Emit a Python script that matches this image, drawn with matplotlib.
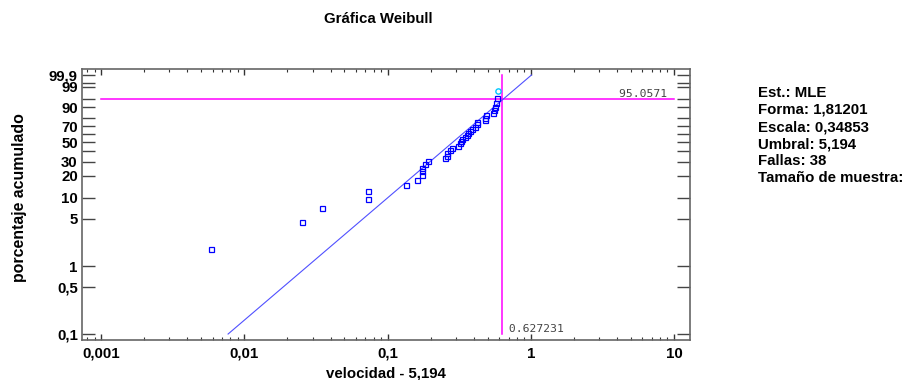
import numpy as np
import matplotlib
matplotlib.use("Agg")
import matplotlib.pyplot as plt
from matplotlib.ticker import FixedLocator, FixedFormatter, NullFormatter

plt.rcParams['font.family'] = ['Liberation Sans', 'DejaVu Sans']

# velocidad - umbral, ordenadas (38 fallas)
velocidad = [0.00586, 0.0254, 0.0351, 0.0735, 0.0735, 0.1346, 0.1615, 0.1733,
             0.1733, 0.1733, 0.1827, 0.1927, 0.252, 0.259, 0.2615, 0.273,
             0.2806, 0.312, 0.3207, 0.3243, 0.3296, 0.3475, 0.3606, 0.366,
             0.3767, 0.387, 0.408, 0.4196, 0.4236, 0.479, 0.479, 0.487,
             0.548, 0.5567, 0.5657, 0.572, 0.578, 0.5935]
# porcentaje acumulado (rangos medianos)
porcentaje = [1.82, 4.43, 7.03, 9.64, 12.24, 14.84, 17.45, 20.05, 22.66, 25.26,
              27.86, 30.47, 33.07, 35.68, 38.28, 40.89, 43.49, 46.09, 48.70,
              51.30, 53.91, 56.51, 59.11, 61.72, 64.32, 66.93, 69.53, 72.14,
              74.74, 77.34, 79.95, 82.55, 85.16, 87.76, 90.36, 92.97, 95.57,
              98.18]

forma = 1.81201
escala = 0.34853
umbral = 5.194
fallas = 38
x_cruz = 0.627231
y_cruz = 95.0571

ytick_vals = [0.1, 0.5, 1, 5, 10, 20, 30, 50, 70, 90, 99, 99.9]
ytick_labels = ['0,1', '0,5', '1', '5', '10', '20', '30', '50', '70', '90', '99', '99,9']
ytick_minor = [40, 60, 80, 95, 99.5]
xtick_vals = [0.001, 0.01, 0.1, 1, 10]
xtick_labels = ['0,001', '0,01', '0,1', '1', '10']

FS = 10.8


def weib_fwd(p):
    p = np.clip(np.asarray(p, dtype=float), 1e-9, 100 - 1e-9)
    return np.log(-np.log(1 - p / 100.0))


def weib_inv(t):
    return 100.0 * (1 - np.exp(-np.exp(t)))


fig = plt.figure(figsize=(9.04, 3.8), dpi=100)
ax = fig.add_axes([82 / 904, 40 / 380, 608 / 904, 271 / 380])
ax.set_xscale('log')
ax.set_yscale('function', functions=(weib_fwd, weib_inv))
ax.set_xlim(7.36e-4, 12.94)
ax.set_ylim(0.0816, 99.979)

# recta ajustada entre 0,1 % y 99,9 %
p_fit = np.linspace(0.1, 99.9, 200)
x_fit = escala * (-np.log(1 - p_fit / 100)) ** (1 / forma)
ax.plot(x_fit, p_fit, color='#5050ff', lw=0.8, zorder=2)

ax.plot(velocidad[:-1], porcentaje[:-1], 's', ms=3.6, mfc='none', mec='#0000ff',
        mew=0.9, zorder=3)
ax.plot(velocidad[-1:], porcentaje[-1:], 'o', ms=3.8, mfc='none', mec='#00c8ff',
        mew=1.0, zorder=3)

# cruz en el punto seleccionado
ax.plot([0.001, 10], [y_cruz, y_cruz], color='#ff00ff', lw=1.1, zorder=1)
ax.plot([x_cruz, x_cruz], [0.1, 99.9], color='#ff00ff', lw=1.1, zorder=1)
ax.text(10, y_cruz, '95.0571 ', ha='right', va='bottom', fontsize=8.2,
        family='DejaVu Sans Mono', color='#444444')
ax.text(x_cruz, 0.1, ' 0.627231', ha='left', va='bottom', fontsize=8.2,
        family='DejaVu Sans Mono', color='#444444')

ax.yaxis.set_major_locator(FixedLocator(ytick_vals))
ax.yaxis.set_major_formatter(FixedFormatter(ytick_labels))
ax.yaxis.set_minor_locator(FixedLocator(ytick_minor))
ax.yaxis.set_minor_formatter(NullFormatter())
ax.xaxis.set_major_locator(FixedLocator(xtick_vals))
ax.xaxis.set_major_formatter(FixedFormatter(xtick_labels))

ax.tick_params(axis='y', which='both', direction='in', length=9.4, width=1.0,
               color='#444444', left=True, right=True, labelsize=FS, pad=3)
ax.tick_params(axis='x', which='major', direction='in', length=4, width=1.0,
               color='#333333', top=True, bottom=True, labelsize=FS, pad=5)
ax.tick_params(axis='x', which='minor', direction='in', length=2.2, width=0.8,
               color='#333333', top=True, bottom=True)
for lab in ax.get_xticklabels() + ax.get_yticklabels():
    lab.set_fontweight('bold')

for s in ax.spines.values():
    s.set_color('#666666')
    s.set_linewidth(1.2)

fig.text(386 / 904, 1 - 373 / 380, 'velocidad - 5,194', ha='center', va='center',
         fontsize=FS, fontweight='bold')
fig.text(20 / 904, 1 - 198 / 380, 'porcentaje acumulado', ha='center', va='center',
         rotation=90, fontsize=FS + 0.6, fontweight='bold')
fig.text(378 / 904, 1 - 19 / 380, 'Gráfica Weibull', ha='center', va='center',
         fontsize=FS, fontweight='bold')

info = ['Est.: MLE', 'Forma: 1,81201', 'Escala: 0,34853',
        'Umbral: 5,194', 'Fallas: %d' % fallas, 'Tamaño de muestra: %d' % fallas]
for i, t in enumerate(info):
    fig.text(758 / 904, 1 - (93 + 17 * i) / 380, t, ha='left', va='center',
             fontsize=FS, fontweight='bold')

fig.savefig('out.png', dpi=100)
